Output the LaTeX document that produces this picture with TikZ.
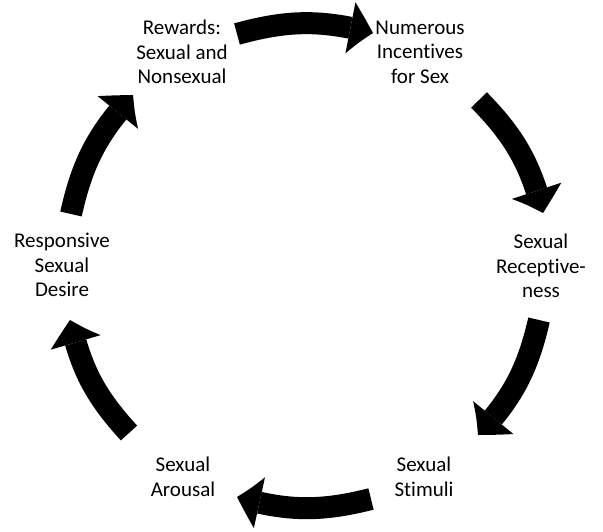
\documentclass[tikz,border=0pt]{standalone}
\usepackage{fontspec}
\setmainfont{Carlito}[Ligatures=NoCommon]
\usetikzlibrary{arrows.meta,bending}

\begin{document}
\begin{tikzpicture}[x=1pt,y=-1pt,
    stage/.style={align=center, font=\fontsize{21}{24.5}\selectfont},
    bigarrow/.style={line width=22pt, -{Triangle[length=24pt,width=52pt,line width'=0pt,bend]}}]
    \useasboundingbox (0,0) rectangle (603,531);

    % Stages of the cycle
    \node[stage] (rew) at (182,52) {Rewards:\\Sexual and\\Nonsexual};
    \node[stage] (inc) at (420,52) {Numerous\\Incentives\\for Sex};
    \node[stage] (rec) at (541,266) {Sexual\\Receptive-\\ness};
    \node[stage] (sti) at (424,477) {Sexual\\Stimuli};
    \node[stage] (aro) at (183,477) {Sexual\\Arousal};
    \node[stage] (des) at (62,265) {Responsive\\Sexual\\Desire};

    % Arrow ends
    \coordinate (a1s) at (237,34);  \coordinate (a1e) at (373,33);
    \coordinate (a2s) at (479,100); \coordinate (a2e) at (543,213);
    \coordinate (a3s) at (539,320); \coordinate (a3e) at (478,435);
    \coordinate (a4s) at (371,499); \coordinate (a4e) at (237,497);
    \coordinate (a5s) at (129,433); \coordinate (a5e) at (70,320);
    \coordinate (a6s) at (71,214);  \coordinate (a6e) at (133,95);

    % Arrows
    \foreach \i in {1,...,6} {
        \draw[bigarrow] (a\i s) to[bend left=15] (a\i e);
    }
\end{tikzpicture}
\end{document}
